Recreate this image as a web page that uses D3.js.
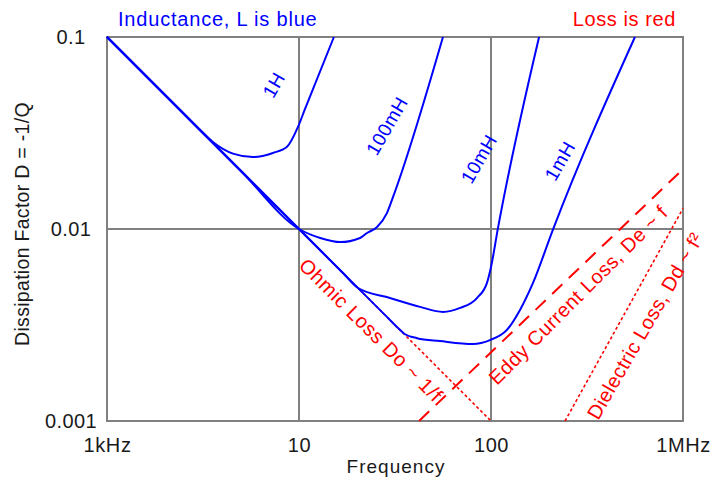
<!DOCTYPE html>
<html>
<head>
<meta charset="utf-8">
<script src="https://cdn.jsdelivr.net/npm/d3@7/dist/d3.min.js"></script>
<style>
  html, body { margin: 0; padding: 0; background: #fff; }
  svg { display: block; font-family: "Liberation Sans", Arial, sans-serif; }
</style>
</head>
<body>
<svg id="chart" width="721" height="480"></svg>
<script>
// ---- data (frequency in kHz, D = dissipation factor) ----
const freqTicks = [1, 10, 100, 1000];
const freqTickLabels = ["1kHz", "10", "100", "1MHz"];
const dTicks = [0.1, 0.01, 0.001];
const dTickLabels = ["0.1", "0.01", "0.001"];

const curve1H = [[1, 0.1], [2.5, 0.04], [3.0, 0.0333], [3.56, 0.0284], [4.53, 0.0247], [5.76, 0.0237], [7.32, 0.0249], [8.66, 0.0268], [9.88, 0.034], [10.7, 0.0417], [15.2, 0.1]];
const curve100mH = [[1, 0.1], [5, 0.02], [10, 0.01], [12.9, 0.00898], [16.4, 0.00855], [20.8, 0.00898], [22.6, 0.00953], [25.5, 0.01024], [28.7, 0.0121], [30.9, 0.0147], [56.2, 0.1]];
const curve10mH = [[1, 0.1], [10, 0.01], [17, 0.00588], [20.3, 0.00493], [29.8, 0.00437], [42.7, 0.00393], [56.2, 0.0037], [69, 0.00388], [84.5, 0.00437], [95.3, 0.00524], [100, 0.00634], [108.7, 0.0101], [178, 0.1]];
const curve1mH = [[1, 0.1], [10, 0.01], [28, 0.00357], [32.8, 0.00305], [35.5, 0.00284], [41.2, 0.0027], [54.2, 0.00261], [80.6, 0.00252], [98.8, 0.00264], [121, 0.00298], [141.6, 0.00379], [165.5, 0.00524], [210, 0.0099], [562, 0.1]];

const ohmicLoss = [[1, 0.1], [100, 0.001]];
const eddyLoss = [[42.2, 0.001], [1000, 0.0205]];
const dielectricLoss = [[243, 0.001], [1000, 0.0128]];

const blueSeries = [curve1H, curve100mH, curve10mH, curve1mH];

// ---- layout ----
const margin = { left: 107, top: 37 };
const W = 576, H = 384;
const BLUE = "#0000ff", RED = "#ff0000", GRID = "#808080", INK = "#1a1a1a";

const svg = d3.select("#chart");
const g = svg.append("g").attr("transform", `translate(${margin.left},${margin.top})`);

const x = d3.scaleLog().domain([1, 1000]).range([0, W]);
const y = d3.scaleLog().domain([0.001, 0.1]).range([H, 0]);

// grid
g.append("g").selectAll("line").data(freqTicks.slice(1, -1)).join("line")
  .attr("x1", d => x(d)).attr("x2", d => x(d)).attr("y1", 0).attr("y2", H)
  .attr("stroke", GRID).attr("stroke-width", 2);
g.append("g").selectAll("line").data(dTicks.slice(1, -1)).join("line")
  .attr("y1", d => y(d)).attr("y2", d => y(d)).attr("x1", 0).attr("x2", W)
  .attr("stroke", GRID).attr("stroke-width", 2);
g.append("rect").attr("x", 0).attr("y", 0).attr("width", W).attr("height", H)
  .attr("fill", "none").attr("stroke", GRID).attr("stroke-width", 2);

// axes (labels only)
const xAxis = g.append("g").attr("transform", `translate(0,${H})`)
  .call(d3.axisBottom(x).tickValues(freqTicks).tickFormat((d, i) => freqTickLabels[i]).tickSize(0).tickPadding(17));
xAxis.select(".domain").remove();
xAxis.selectAll("text").attr("font-size", 20).attr("fill", INK).attr("letter-spacing", 0.6)
  .attr("font-family", "Liberation Sans, Arial, sans-serif");

const yAxis = g.append("g")
  .call(d3.axisLeft(y).tickValues(dTicks).tickFormat((d, i) => dTickLabels[i]).tickSize(0).tickPadding(36));
yAxis.select(".domain").remove();
yAxis.selectAll("text").attr("font-size", 20).attr("fill", INK).attr("text-anchor", "middle")
  .attr("letter-spacing", 0.4).attr("font-family", "Liberation Sans, Arial, sans-serif");

// lines
const line = d3.line().x(d => x(d[0])).y(d => y(d[1]));
const smooth = d3.line().x(d => x(d[0])).y(d => y(d[1])).curve(d3.curveMonotoneX);

g.append("path").datum(ohmicLoss).attr("d", line).attr("fill", "none")
  .attr("stroke", RED).attr("stroke-width", 1.6).attr("stroke-dasharray", "3,2.5");
g.append("path").datum(eddyLoss).attr("d", line).attr("fill", "none")
  .attr("stroke", RED).attr("stroke-width", 2).attr("stroke-dasharray", "14,9");
g.append("path").datum(dielectricLoss).attr("d", line).attr("fill", "none")
  .attr("stroke", RED).attr("stroke-width", 1.6).attr("stroke-dasharray", "3,2.5");

g.append("g").selectAll("path").data(blueSeries).join("path")
  .attr("d", smooth).attr("fill", "none").attr("stroke", BLUE).attr("stroke-width", 2);

// texts
function label(txt, cx, cy, rot, color, size, spacing) {
  svg.append("text").attr("transform", `translate(${cx},${cy}) rotate(${rot})`)
    .attr("text-anchor", "middle").attr("dominant-baseline", "central")
    .attr("font-size", size).attr("fill", color)
    .attr("letter-spacing", spacing || 0)
    .text(txt);
}
svg.append("text").attr("x", 118).attr("y", 26).attr("font-size", 20).attr("letter-spacing", 0.8)
  .attr("fill", BLUE).text("Inductance, L is blue");
svg.append("text").attr("x", 676).attr("y", 26).attr("text-anchor", "end").attr("font-size", 20)
  .attr("letter-spacing", 0.6).attr("fill", RED).text("Loss is red");
svg.append("text").attr("x", 396).attr("y", 473).attr("text-anchor", "middle").attr("font-size", 19)
  .attr("letter-spacing", 1).attr("fill", INK).text("Frequency");
svg.append("text").attr("transform", "translate(29,224) rotate(-90)").attr("text-anchor", "middle")
  .attr("font-size", 19.5).attr("letter-spacing", 0.3).attr("fill", INK).text("Dissipation Factor D = -1/Q");

label("1H", 274, 85, -60, BLUE, 19, 0.5);
label("100mH", 387, 126, -60, BLUE, 19, 0.5);
label("10mH", 479, 159, -60, BLUE, 19, 0.5);
label("1mH", 560, 161, -60, BLUE, 19, 0.5);
label("Ohmic Loss Do ~ 1/f", 371, 330, 45, RED, 20, 0.6);
label("Eddy Current Loss, De ~ f", 578, 295, -45, RED, 20, 0.5);
label("Dielectric Loss, Dd ~ f\u00B2", 645, 326, -60, RED, 20, 0.4);
</script>
</body>
</html>
